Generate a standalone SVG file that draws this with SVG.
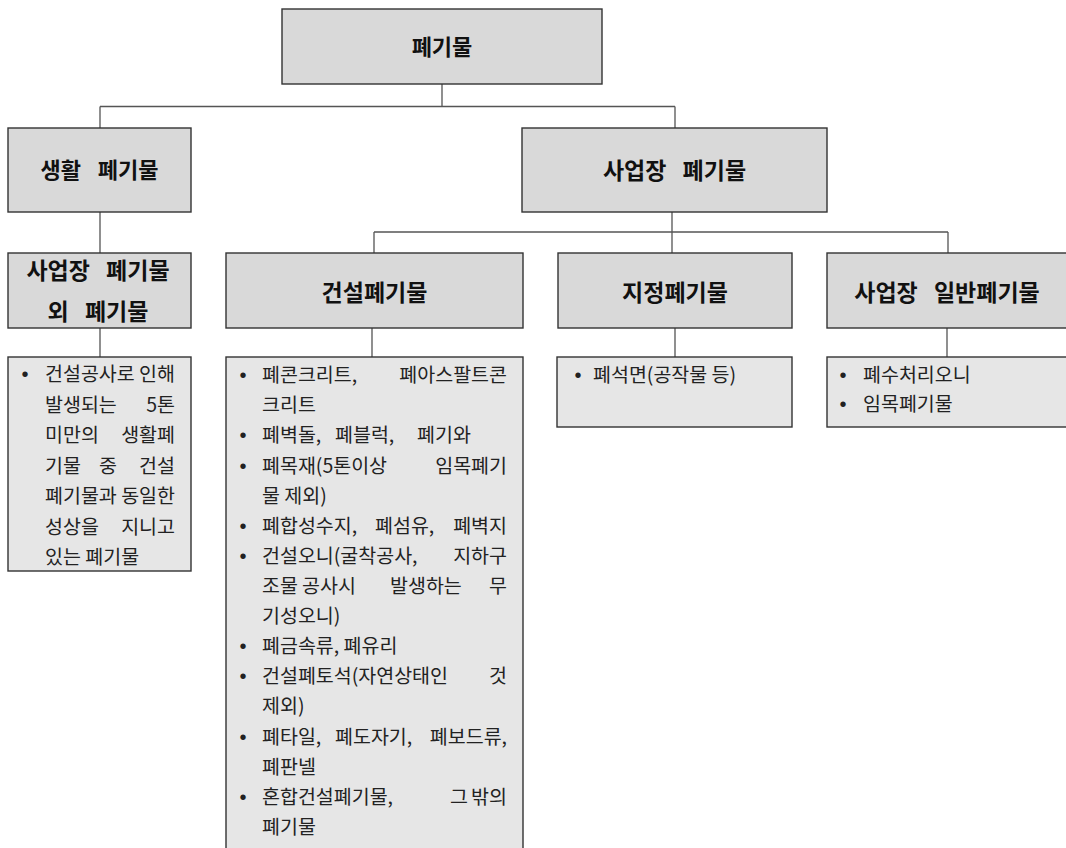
<svg xmlns="http://www.w3.org/2000/svg" width="1066" height="848" viewBox="0 0 1066 848">
<style>
.bg{fill:#ffffff}
.tbox{fill:#d9d9d9;stroke:#333333;stroke-width:1.4}
.bbox{fill:#e6e6e6;stroke:#333333;stroke-width:1.4}
.ln{stroke:#555555;stroke-width:1.3;fill:none}
.t{font-family:"Noto Sans CJK KR","Noto Sans",sans-serif;font-weight:700;font-size:22px;fill:#111111;text-anchor:middle;word-spacing:12px}
.t2{font-family:"Noto Sans CJK KR","Noto Sans",sans-serif;font-weight:700;font-size:23px;fill:#111111;text-anchor:middle;word-spacing:11px}
.b{font-family:"Noto Sans CJK KR","Noto Sans",sans-serif;font-size:19.5px;fill:#222222}
.e{text-anchor:end}
.m{text-anchor:middle}
.dot{font-family:"Liberation Sans",sans-serif;font-size:20px;fill:#222222;text-anchor:middle}
</style>
<rect class="bg" x="0" y="0" width="1066" height="848"/>

<g id="connectors">
<path class="ln" d="M442 84 V106.5 M100 106.5 H675 M100 106.5 V128 M675 106.5 V128"/>
<path class="ln" d="M100 212 V253 M100 328 V357"/>
<path class="ln" d="M672 212 V232 M374 232 H948 M374 232 V253 M672 232 V253 M948 232 V253"/>
<path class="ln" d="M372 328 V357 M675 328 V357 M947 328 V357"/>
</g>

<g id="n-root">
<rect class="tbox" x="282" y="9" width="320" height="75"/>
<text class="t" x="442" y="55">폐기물</text>
</g>

<g id="n-household">
<rect class="tbox" x="8" y="128" width="183" height="84"/>
<text class="t" x="99.5" y="178">생활 폐기물</text>
</g>

<g id="n-business">
<rect class="tbox" x="522" y="128" width="305" height="84"/>
<text class="t2" x="674.5" y="178.5">사업장 폐기물</text>
</g>

<g id="n-nonbusiness">
<rect class="tbox" x="8" y="253" width="183" height="75"/>
<text class="t2" x="98" y="278.5">사업장 폐기물</text>
<text class="t2" x="98" y="320">외 폐기물</text>
</g>

<g id="n-construction">
<rect class="tbox" x="226" y="253" width="297" height="75"/>
<text class="t2" x="374.5" y="301">건설폐기물</text>
</g>

<g id="n-designated">
<rect class="tbox" x="558" y="253" width="234" height="75"/>
<text class="t2" x="675" y="301">지정폐기물</text>
</g>

<g id="n-general">
<rect class="tbox" x="827" y="253" width="242" height="75"/>
<text class="t2" x="947" y="300.5">사업장 일반폐기물</text>
</g>

<g id="d-nonbusiness">
<rect class="bbox" x="8" y="357" width="183" height="214"/>
<text class="dot" x="25" y="381">•</text>
<text class="b" x="45" y="381">건설공사로</text><text class="b e" x="175" y="381">인해</text>
<text class="b" x="45" y="411.5">발생되는</text><text class="b e" x="175" y="411.5">5톤</text>
<text class="b" x="45" y="442">미만의</text><text class="b e" x="175" y="442">생활폐</text>
<text class="b" x="45" y="472.5">기물</text><text class="b m" x="108" y="472.5">중</text><text class="b e" x="175" y="472.5">건설</text>
<text class="b" x="45" y="503">폐기물과</text><text class="b e" x="175" y="503">동일한</text>
<text class="b" x="45" y="533.5">성상을</text><text class="b e" x="175" y="533.5">지니고</text>
<text class="b" x="45" y="564">있는 폐기물</text>
</g>

<g id="d-construction">
<rect class="bbox" x="226" y="357" width="297" height="500"/>
<text class="dot" x="243" y="382">•</text>
<text class="b" x="262" y="382">폐콘크리트,</text><text class="b e" x="507" y="382">폐아스팔트콘</text>
<text class="b" x="262" y="412">크리트</text>
<text class="dot" x="243" y="442">•</text>
<text class="b" x="262" y="442">폐벽돌,</text><text class="b" x="335" y="442">폐블럭,</text><text class="b" x="417" y="442">폐기와</text>
<text class="dot" x="243" y="472.5">•</text>
<text class="b" x="262" y="472.5">폐목재(5톤이상</text><text class="b e" x="507" y="472.5">임목폐기</text>
<text class="b" x="262" y="502.5">물 제외)</text>
<text class="dot" x="243" y="532.5">•</text>
<text class="b" x="262" y="532.5">폐합성수지,</text><text class="b" x="375" y="532.5">폐섬유,</text><text class="b e" x="507" y="532.5">폐벽지</text>
<text class="dot" x="243" y="562.5">•</text>
<text class="b" x="262" y="562.5">건설오니(굴착공사,</text><text class="b e" x="507" y="562.5">지하구</text>
<text class="b" x="262" y="592.5">조물</text><text class="b" x="302" y="592.5">공사시</text><text class="b" x="390" y="592.5">발생하는</text><text class="b e" x="507" y="592.5">무</text>
<text class="b" x="262" y="623">기성오니)</text>
<text class="dot" x="243" y="653">•</text>
<text class="b" x="262" y="653">폐금속류, 폐유리</text>
<text class="dot" x="243" y="683">•</text>
<text class="b" x="262" y="683">건설폐토석(자연상태인</text><text class="b e" x="507" y="683">것</text>
<text class="b" x="262" y="713">제외)</text>
<text class="dot" x="243" y="743.5">•</text>
<text class="b" x="262" y="743.5">폐타일,</text><text class="b" x="335" y="743.5">폐도자기,</text><text class="b e" x="507" y="743.5">폐보드류,</text>
<text class="b" x="262" y="773.5">폐판넬</text>
<text class="dot" x="243" y="803.5">•</text>
<text class="b" x="262" y="803.5">혼합건설폐기물,</text><text class="b" x="450" y="803.5">그</text><text class="b e" x="507" y="803.5">밖의</text>
<text class="b" x="262" y="833.5">폐기물</text>
</g>

<g id="d-designated">
<rect class="bbox" x="557" y="357" width="235" height="70"/>
<text class="dot" x="578" y="382">•</text>
<text class="b" x="593" y="382">폐석면(공작물 등)</text>
</g>

<g id="d-general">
<rect class="bbox" x="827" y="357" width="242" height="70"/>
<text class="dot" x="843" y="382">•</text>
<text class="b" x="863" y="382">폐수처리오니</text>
<text class="dot" x="843" y="411">•</text>
<text class="b" x="863" y="411">임목폐기물</text>
</g>
</svg>
